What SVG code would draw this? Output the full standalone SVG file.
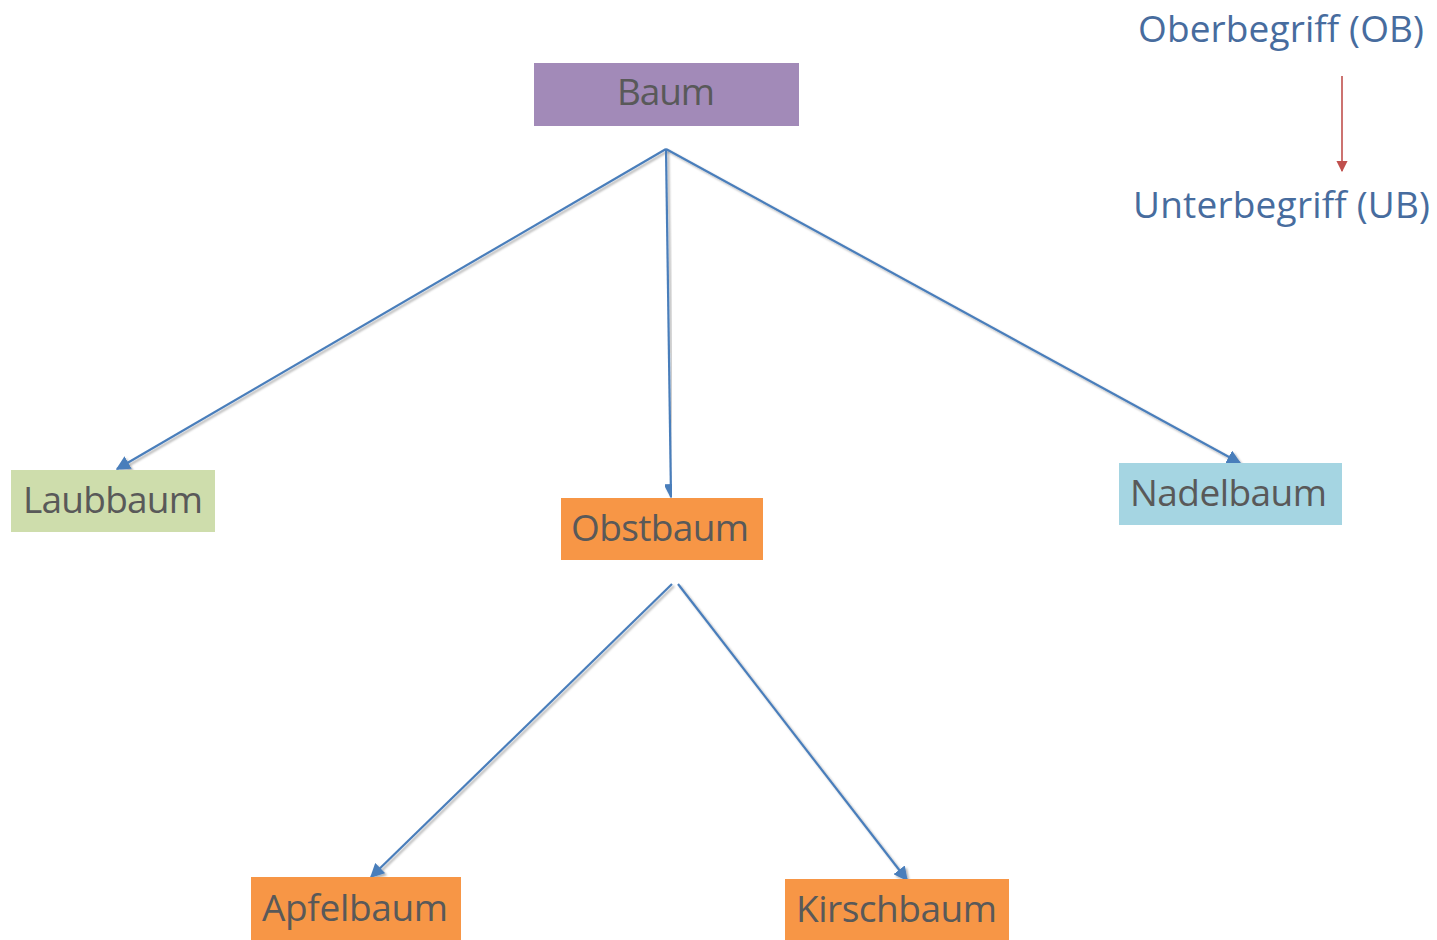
<svg xmlns="http://www.w3.org/2000/svg" width="1437" height="940" viewBox="0 0 1437 940">
  <style>
    .lbl { font-family: "Open Sans", "Noto Sans", sans-serif; font-size: 37px; fill: #595959; }
    .leg { font-family: "Open Sans", "Noto Sans", sans-serif; font-size: 37px; fill: #476C9E; }
    .edge { stroke: #4A7EBB; stroke-width: 2.2; fill: none; marker-end: url(#arrowBlue); filter: url(#shadow); }
  </style>
  <defs>
    <marker id="arrowBlue" viewBox="0 0 10 10" refX="9" refY="5" markerWidth="6.5" markerHeight="6.5" markerUnits="strokeWidth" orient="auto">
      <path d="M0,0 L10,5 L0,10 Z" fill="#4A7EBB"/>
    </marker>
    <marker id="arrowRed" viewBox="0 0 10 10" refX="9" refY="5" markerWidth="7" markerHeight="7" markerUnits="strokeWidth" orient="auto">
      <path d="M0,0 L10,5 L0,10 Z" fill="#C0504D"/>
    </marker>
    <filter id="shadow" x="-10%" y="-10%" width="120%" height="120%">
      <feDropShadow dx="2" dy="2" stdDeviation="1.2" flood-color="#000" flood-opacity="0.3"/>
    </filter>
  </defs>

  <rect width="1437" height="940" fill="#FFFFFF"/>

  <!-- legend -->
  <g id="legend">
    <text class="leg" x="1138" y="42" textLength="286">Oberbegriff (OB)</text>
    <line x1="1342" y1="76" x2="1342" y2="171" stroke="#C0504D" stroke-width="1.6" marker-end="url(#arrowRed)"/>
    <text class="leg" x="1133" y="218" textLength="297">Unterbegriff (UB)</text>
  </g>

  <!-- connectors -->
  <g id="connectors">
    <line class="edge" x1="666" y1="149" x2="117" y2="469"/>
    <line class="edge" x1="666" y1="149" x2="671" y2="497"/>
    <line class="edge" x1="666" y1="149" x2="1240" y2="463"/>
    <line class="edge" x1="672" y1="584" x2="371" y2="877"/>
    <line class="edge" x1="678" y1="584" x2="907" y2="880"/>
  </g>

  <!-- nodes -->
  <g id="baum">
    <rect x="534" y="63" width="265" height="63" fill="#A28AB8"/>
    <text class="lbl" x="617" y="105" textLength="98">Baum</text>
  </g>
  <g id="laubbaum">
    <rect x="11" y="470" width="204" height="62" fill="#CEDDAC"/>
    <text class="lbl" x="23" y="513" textLength="180">Laubbaum</text>
  </g>
  <g id="obstbaum">
    <rect x="561" y="498" width="202" height="62" fill="#F79646"/>
    <text class="lbl" x="571" y="541" textLength="178">Obstbaum</text>
  </g>
  <g id="nadelbaum">
    <rect x="1119" y="463" width="223" height="62" fill="#A5D5E2"/>
    <text class="lbl" x="1130" y="506" textLength="197">Nadelbaum</text>
  </g>
  <g id="apfelbaum">
    <rect x="251" y="877" width="210" height="63" fill="#F79646"/>
    <text class="lbl" x="262" y="921" textLength="186">Apfelbaum</text>
  </g>
  <g id="kirschbaum">
    <rect x="785" y="879" width="224" height="61" fill="#F79646"/>
    <text class="lbl" x="796" y="922" textLength="201">Kirschbaum</text>
  </g>
</svg>
